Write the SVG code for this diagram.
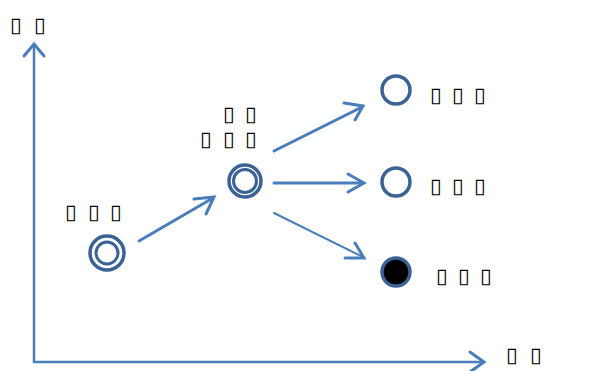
<svg xmlns="http://www.w3.org/2000/svg" width="613" height="371" viewBox="0 0 613 371">
<defs>
<style>
.axis{stroke:#4a7ebb;stroke-width:2.5;fill:none}
.conn{stroke:#4a7ebb;stroke-width:3;fill:none;stroke-linecap:round}
.head{stroke:#4a7ebb;stroke-width:3;fill:none;stroke-linecap:round;stroke-linejoin:miter}
.node{stroke:#3a6295;stroke-width:3.5;fill:#fff}
.inner{stroke:#3a6295;stroke-width:3;fill:none}
.filled{stroke:#3a6295;stroke-width:3.5;fill:#000}
.lbl{font-family:"DejaVu Sans",sans-serif;font-size:21px;font-weight:bold;fill:#000}
</style>
</defs>
<rect width="613" height="371" fill="#fff"/>
<g id="connectors">
<path class="axis" d="M34,363 V44"/>
<path class="head" d="M24,56 L34,44 L44,56"/>
<path class="axis" d="M34,362 H484"/>
<path class="head" d="M470,352 L484,362 L470,372"/>
<path class="conn" d="M139,241 L213,198"/>
<path class="head" d="M194,199 L214,197 L206,214"/>
<path class="conn" d="M274,151 L362,107"/>
<path class="head" d="M344,103 L363,106 L355,120"/>
<path class="conn" d="M274,183 L363,183"/>
<path class="head" d="M348,174 L364,183 L348,192"/>
<path class="conn" d="M274,213 L363,257" style="stroke-width:2"/>
<path class="head" d="M355,243 L364,258 L345,258"/>
</g>
<g id="node1"><circle class="node" cx="107" cy="253" r="17"/><circle class="inner" cx="107" cy="253" r="11"/><text class="lbl" x="65 88 110" y="219">▯▯▯</text></g>
<g id="node2"><circle class="node" cx="245" cy="181" r="16"/><circle class="inner" cx="245" cy="181" r="11.5"/><text class="lbl"><tspan x="223 245" y="121">▯▯</tspan><tspan x="200 223 245" y="146">▯▯▯</tspan></text></g>
<g id="node3"><circle class="node" cx="396" cy="90" r="14"/><text class="lbl" x="430 452 474" y="102">▯▯▯</text></g>
<g id="node4"><circle class="node" cx="396" cy="182" r="14"/><text class="lbl" x="430 452 474" y="193">▯▯▯</text></g>
<g id="node5"><circle class="filled" cx="396" cy="272" r="14"/><text class="lbl" x="436 458 480" y="283">▯▯▯</text></g>
<g id="ylabel"><text class="lbl" x="10 34" y="32">▯▯</text></g>
<g id="xlabel"><text class="lbl" x="506 530" y="362">▯▯</text></g>
</svg>
